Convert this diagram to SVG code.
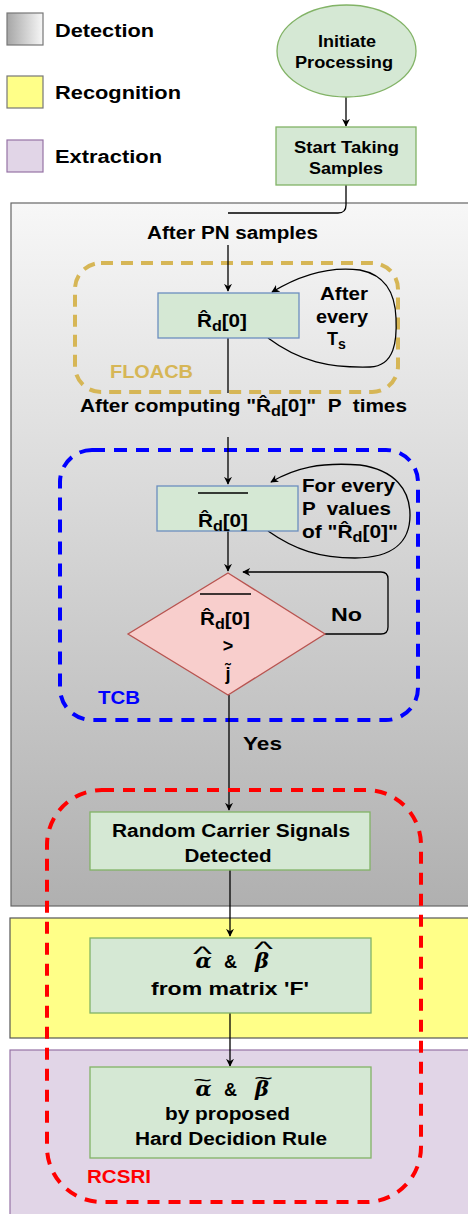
<svg xmlns="http://www.w3.org/2000/svg" width="468" height="1214" viewBox="0 0 468 1214">
<style>
.t{font-family:"Liberation Sans",Arial,sans-serif;font-weight:bold;font-size:18px;fill:#000}
.s16{font-size:16px}
.sub{font-size:14px}
.amp{font-size:18px}
.m{font-family:"DejaVu Serif","Liberation Serif",serif;font-style:italic;font-weight:bold;font-size:21px;fill:#000}
.acc{font-family:"Liberation Sans",Arial,sans-serif;font-style:normal;font-weight:normal;font-size:20px}
.g{fill:#d5e8d4;stroke:#82b366;stroke-width:1.3}
.gb{fill:#d5e8d4;stroke:#6c8ebf;stroke-width:1.3}
.c{fill:none;stroke:#000;stroke-width:1.3}
.ca{fill:none;stroke:#000;stroke-width:1.3;marker-end:url(#ah)}
</style>
<defs>
<linearGradient id="detV" x1="0" y1="0" x2="0" y2="1">
<stop offset="0" stop-color="#f7f7f7"/><stop offset="1" stop-color="#b0b0b0"/>
</linearGradient>
<linearGradient id="detH" x1="0" y1="0" x2="1" y2="0">
<stop offset="0" stop-color="#a6a6a6"/><stop offset="1" stop-color="#f7f7f7"/>
</linearGradient>
<marker id="ah" viewBox="0 0 10 10" refX="9" refY="5" markerWidth="8" markerHeight="8" markerUnits="userSpaceOnUse" orient="auto">
<path d="M0,0 L10,5 L0,10 L3,5 Z" fill="#000"/>
</marker>
</defs>

<g id="legend">
<rect x="7" y="13" width="36" height="32" fill="url(#detH)" stroke="#777" stroke-width="1.2"/>
<text class="t" x="55" y="37" textLength="99" lengthAdjust="spacingAndGlyphs">Detection</text>
<rect x="7" y="76" width="36" height="32" fill="#ffff88" stroke="#777" stroke-width="1.2"/>
<text class="t" x="55" y="99" textLength="126" lengthAdjust="spacingAndGlyphs">Recognition</text>
<rect x="7" y="140" width="36" height="32" fill="#e1d5e7" stroke="#9673a6" stroke-width="1.2"/>
<text class="t" x="55" y="163" textLength="107" lengthAdjust="spacingAndGlyphs">Extraction</text>
</g>

<g id="zone-detection">
<rect x="11" y="203" width="470" height="703" fill="url(#detV)" stroke="#666" stroke-width="1.2"/>
</g>
<g id="zone-recognition">
<rect x="10" y="918" width="470" height="120" fill="#ffff88" stroke="#555" stroke-width="1.2"/>
</g>
<g id="zone-extraction">
<rect x="10" y="1050" width="470" height="170" fill="#e1d5e7" stroke="#9673a6" stroke-width="1.2"/>
</g>

<g id="floacb">
<rect x="75" y="263" width="323" height="129" rx="26" fill="none" stroke="#d6b656" stroke-width="4" stroke-dasharray="12 8"/>
<text class="t" x="110" y="378" style="fill:#d6b656" textLength="83" lengthAdjust="spacingAndGlyphs">FLOACB</text>
</g>
<g id="tcb">
<rect x="60" y="450" width="358" height="270" rx="32" fill="none" stroke="#0000ff" stroke-width="4" stroke-dasharray="13 9"/>
<text class="t" x="98" y="704" style="fill:#0000ff" textLength="42" lengthAdjust="spacingAndGlyphs">TCB</text>
</g>

<g id="connectors">
<path class="ca" d="M346,97 L346,126"/>
<path class="c" d="M346,185 L346,205 Q346,213 338,213 L228,213"/>
<path class="ca" d="M228,245 L228,291"/>
<path class="ca" d="M268,338 C300,362 330,368 370,367 C395,366 397,340 396,318 C395,292 385,275 360,270 C330,266 300,275 272,292"/>
<path class="c" d="M228,338 L228,393"/>
<path class="ca" d="M228,437 L228,484"/>
<path class="ca" d="M268,531 C295,550 320,558 355,558 C395,558 410,540 410,515 C410,490 395,470 360,465 C320,462 295,468 271,482"/>
<path class="ca" d="M228,531 L228,571"/>
<path class="ca" d="M325,634 L381,634 Q388,634 388,627 L388,579 Q388,572 381,572 L243,572"/>
<path class="ca" d="M229,695 L229,810"/>
<path class="ca" d="M230,870 L230,936"/>
<path class="ca" d="M230,1013 L230,1066"/>
</g>

<g id="label-pn">
<text class="t" x="232.5" y="239" text-anchor="middle" textLength="171" lengthAdjust="spacingAndGlyphs">After PN samples</text>
</g>
<g id="label-every-ts">
<text class="t" x="344" y="300" text-anchor="middle" textLength="48" lengthAdjust="spacingAndGlyphs">After</text>
<text class="t" x="342" y="323" text-anchor="middle" textLength="52" lengthAdjust="spacingAndGlyphs">every</text>
<text class="t" x="327" y="345">T<tspan class="sub" dy="4">s</tspan></text>
</g>
<g id="label-computing">
<text class="t" x="80" y="412" textLength="327" lengthAdjust="spacingAndGlyphs" xml:space="preserve">After computing "R̂<tspan class="sub" dy="4">d</tspan><tspan dy="-4">[0]"  P  times</tspan></text>
</g>
<g id="label-every-p">
<text class="t" x="302" y="492" textLength="93" lengthAdjust="spacingAndGlyphs">For every</text>
<text class="t" x="302" y="515" textLength="89" lengthAdjust="spacingAndGlyphs" xml:space="preserve">P  values</text>
<text class="t" x="302" y="538" textLength="96" lengthAdjust="spacingAndGlyphs">of "R̂<tspan class="sub" dy="4">d</tspan><tspan dy="-4">[0]"</tspan></text>
</g>
<g id="label-no">
<text class="t" x="331" y="621" textLength="31" lengthAdjust="spacingAndGlyphs">No</text>
</g>
<g id="label-yes">
<text class="t" x="243" y="750" textLength="39" lengthAdjust="spacingAndGlyphs">Yes</text>
</g>

<g id="initiate">
<ellipse cx="346.5" cy="51" rx="69.5" ry="46" class="g"/>
<text class="t s16" x="347" y="47" text-anchor="middle" textLength="58" lengthAdjust="spacingAndGlyphs">Initiate</text>
<text class="t s16" x="344" y="68" text-anchor="middle" textLength="98" lengthAdjust="spacingAndGlyphs">Processing</text>
</g>
<g id="start-sampling">
<rect x="276" y="127" width="140" height="58" class="g"/>
<text class="t s16" x="346.5" y="153" text-anchor="middle" textLength="105" lengthAdjust="spacingAndGlyphs">Start Taking</text>
<text class="t s16" x="346" y="174" text-anchor="middle" textLength="74" lengthAdjust="spacingAndGlyphs">Samples</text>
</g>
<g id="rd0">
<rect x="158" y="293" width="141" height="45" class="gb"/>
<text class="t" x="197" y="327" textLength="50" lengthAdjust="spacingAndGlyphs">R̂<tspan class="sub" dy="4">d</tspan><tspan dy="-4">[0]</tspan></text>
</g>
<g id="rd0-mean">
<rect x="157" y="486" width="141" height="45" class="gb"/>
<line x1="198" y1="493" x2="248" y2="493" stroke="#000" stroke-width="1.6"/>
<text class="t" x="198" y="527" textLength="50" lengthAdjust="spacingAndGlyphs">R̂<tspan class="sub" dy="4">d</tspan><tspan dy="-4">[0]</tspan></text>
</g>
<g id="threshold">
<path d="M228,573 L325,634 L228,695 L128,634 Z" fill="#f8cecc" stroke="#b85450" stroke-width="1.3"/>
<line x1="200" y1="594" x2="251" y2="594" stroke="#000" stroke-width="1.6"/>
<text class="t" x="200" y="625" textLength="50" lengthAdjust="spacingAndGlyphs">R̂<tspan class="sub" dy="4">d</tspan><tspan dy="-4">[0]</tspan></text>
<text class="t" x="228" y="652" text-anchor="middle">&gt;</text>
<text class="t" x="228" y="680" text-anchor="middle">j̃</text>
</g>

<g id="rcsri">
<rect x="47" y="790" width="374" height="412" rx="55" fill="none" stroke="#ff0000" stroke-width="4" stroke-dasharray="12 9"/>
<text class="t" x="87" y="1183" style="fill:#ff0000" textLength="64" lengthAdjust="spacingAndGlyphs">RCSRI</text>
</g>

<g id="detected">
<rect x="90" y="812" width="280" height="58" class="g"/>
<text class="t" x="231" y="837" text-anchor="middle" textLength="238" lengthAdjust="spacingAndGlyphs">Random Carrier Signals</text>
<text class="t" x="228" y="862" text-anchor="middle" textLength="87" lengthAdjust="spacingAndGlyphs">Detected</text>
</g>
<g id="matrix-f">
<rect x="90" y="938" width="281" height="75" class="g"/>
<text class="m"><tspan x="195.5" y="968">α</tspan><tspan class="acc" x="193" y="961" textLength="19" lengthAdjust="spacingAndGlyphs">^</tspan><tspan class="t amp" x="224" y="968" font-style="normal">&amp;</tspan><tspan x="255" y="968">β</tspan><tspan class="acc" x="254" y="956" textLength="19" lengthAdjust="spacingAndGlyphs">^</tspan></text>
<text class="t" x="230" y="995" text-anchor="middle" textLength="158" lengthAdjust="spacingAndGlyphs">from matrix 'F'</text>
</g>
<g id="hard-decision">
<rect x="90" y="1067" width="281" height="91" class="g"/>
<text class="m"><tspan x="195.5" y="1096">α</tspan><tspan class="acc" x="193" y="1087" textLength="19" lengthAdjust="spacingAndGlyphs">~</tspan><tspan class="t amp" x="224" y="1096" font-style="normal">&amp;</tspan><tspan x="255" y="1096">β</tspan><tspan class="acc" x="254" y="1085" textLength="19" lengthAdjust="spacingAndGlyphs">~</tspan></text>
<text class="t" x="227.5" y="1120" text-anchor="middle" textLength="125" lengthAdjust="spacingAndGlyphs">by proposed</text>
<text class="t" x="231" y="1145" text-anchor="middle" textLength="192" lengthAdjust="spacingAndGlyphs">Hard Decidion Rule</text>
</g>
</svg>
